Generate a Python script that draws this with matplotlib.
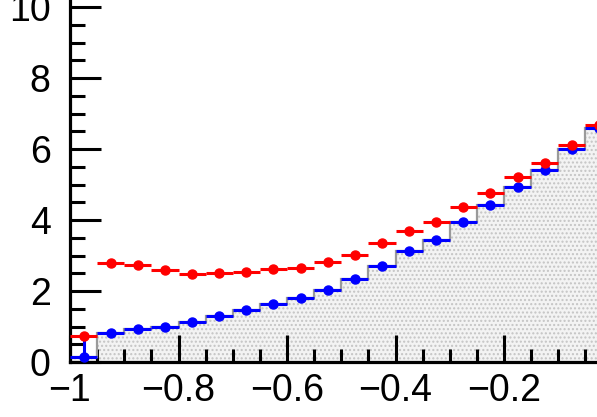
import numpy as np
import matplotlib
matplotlib.use("Agg")
import matplotlib.pyplot as plt
from matplotlib.ticker import MultipleLocator

# Bin edges (width 0.05) and per-bin contents
edges = np.round(np.arange(-1.0, 0.0001, 0.05), 3)
red_vals = [0.73, 2.78, 2.73, 2.60, 2.49, 2.52, 2.54, 2.62, 2.66, 2.81,
            3.01, 3.34, 3.69, 3.95, 4.38, 4.75, 5.20, 5.60, 6.11, 6.68]
blue_vals = [0.13, 0.81, 0.93, 0.98, 1.13, 1.30, 1.46, 1.64, 1.79, 2.03,
             2.33, 2.71, 3.13, 3.45, 3.95, 4.42, 4.92, 5.41, 5.99, 6.58]
blue_err = [0.50, 0.05, 0.05, 0.05, 0.05, 0.05, 0.05, 0.05, 0.05, 0.05,
            0.05, 0.05, 0.05, 0.05, 0.05, 0.05, 0.05, 0.05, 0.05, 0.05]
template_vals = blue_vals

centers = 0.5 * (edges[:-1] + edges[1:])
half_w = 0.5 * np.diff(edges)

plt.rcParams['font.family'] = ['Liberation Sans', 'DejaVu Sans']

W, H = 597, 417
fig = plt.figure(figsize=(W / 100, H / 100), dpi=100)

x0_px, y0_px = 70, 362          # axis origin in pixels (from top-left)
px_per_x = 108.5 / 0.2
px_per_y = 35.5
xmin, xmax = -1.0, 0.0
ymin, ymax = 0.0, 10.5
ax_w = (xmax - xmin) * px_per_x
ax_h = (ymax - ymin) * px_per_y
ax = fig.add_axes([x0_px / W, (H - y0_px) / H, ax_w / W, ax_h / H])
ax.set_xlim(xmin, xmax)
ax.set_ylim(ymin, ymax)

# Filled template histogram with dotted pattern
ax.stairs(template_vals, edges, fill=True, facecolor='#f3f3f3',
          edgecolor='#c4c4c4', hatch='....', linewidth=0, zorder=1)
ax.stairs(template_vals, edges, fill=False, baseline=None,
          color='#9a9a9a', linewidth=1.6, zorder=2)

ax.errorbar(centers, blue_vals, xerr=half_w, yerr=blue_err, fmt='o',
            color='#0000ff', markersize=6.5, elinewidth=2.2, capsize=0,
            zorder=3, clip_on=True)
ax.errorbar(centers, red_vals, xerr=half_w, fmt='o',
            color='#ff0000', markersize=6.5, elinewidth=2.2, capsize=0,
            zorder=4, clip_on=True)

for s in ('top', 'right'):
    ax.spines[s].set_visible(False)
for s in ('left', 'bottom'):
    ax.spines[s].set_linewidth(2.3)
    ax.spines[s].set_color('black')

ax.xaxis.set_major_locator(MultipleLocator(0.2))
ax.xaxis.set_minor_locator(MultipleLocator(0.05))
ax.yaxis.set_major_locator(MultipleLocator(2))
ax.yaxis.set_minor_locator(MultipleLocator(0.5))

ax.xaxis.set_major_formatter(matplotlib.ticker.FuncFormatter(
    lambda v, p: ('%g' % round(v, 2)).replace('-', '\u2212')))
ax.yaxis.set_major_formatter(matplotlib.ticker.FuncFormatter(
    lambda v, p: '%g' % round(v, 2)))

ax.tick_params(axis='x', which='major', direction='in', length=19.5,
               width=2.2, labelsize=27, pad=8, top=False)
ax.tick_params(axis='x', which='minor', direction='in', length=9.5,
               width=2.2, top=False)
ax.tick_params(axis='y', which='major', direction='in', length=22,
               width=2.2, labelsize=27, pad=14, right=False)
ax.tick_params(axis='y', which='minor', direction='in', length=11,
               width=2.2, right=False)

fig.savefig('out.png', dpi=100)
